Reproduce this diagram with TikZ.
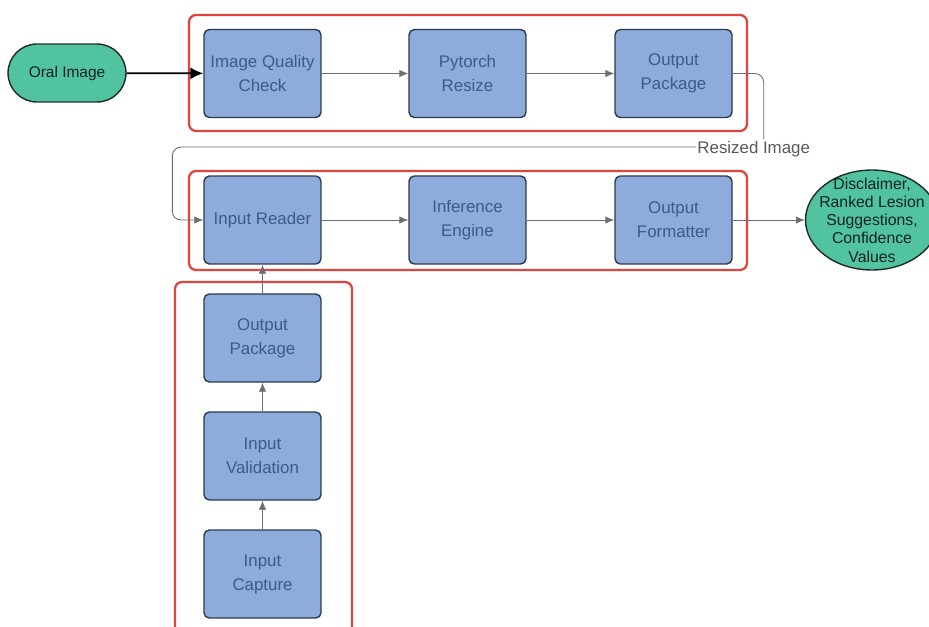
\documentclass[tikz,border=0pt]{standalone}
\usepackage{fontspec}
\setmainfont{Liberation Sans}
\usepackage{xcolor}
\usetikzlibrary{arrows.meta,positioning,calc,shapes.geometric}
\definecolor{boxfill}{HTML}{8DACDB}
\definecolor{boxline}{HTML}{2C3A4E}
\definecolor{boxtext}{HTML}{3D5A88}
\definecolor{termfill}{HTML}{52C3A1}
\definecolor{termline}{HTML}{1E2D29}
\definecolor{termtext}{HTML}{10241F}
\definecolor{grpred}{HTML}{E0443F}
\definecolor{flowgray}{HTML}{6E6E6E}
\tikzset{
  proc/.style={draw=boxline, fill=boxfill, rounded corners=3pt, align=center, text=boxtext,
               font=\fontsize{9.6}{13.6}\selectfont, inner sep=2pt, line width=0.8pt,
               minimum width=2.34cm, minimum height=1.76cm},
  term/.style={draw=termline, fill=termfill, align=center, text=termtext, line width=0.8pt,
               font=\fontsize{8.8}{10.3}\selectfont, inner sep=0pt},
  grp/.style={draw=grpred, line width=1.3pt, rounded corners=4pt},
  flow/.style={-{Latex[length=1.8mm, width=1.5mm]}, draw=flowgray, line width=0.5pt},
  lab/.style={font=\fontsize{9.6}{11}\selectfont, text=black!65, fill=white, inner sep=1pt},
}

\begin{document}
\begin{tikzpicture}[x=0.02cm, y=-0.02cm]
    \useasboundingbox[fill=white] (0,0) rectangle (929,626);
    % groups
    \draw[grp] (189,15) rectangle (747,131);
    \draw[grp] (189,171) rectangle (747,270);
    \draw[grp] (175,282) rectangle (352,640);
    % preprocessing row
    \node[term, rounded corners=0.58cm, minimum width=2.36cm, minimum height=1.16cm] (oral) at (67,73) {Oral Image};
    \node[proc] (qual) at (262.5,73.5) {Image Quality\\ Check};
    \node[proc] (resize) at (467.5,73.5) {Pytorch\\ Resize};
    \node[proc] (pkgtop) at (673.5,73.5) {Output\\ Package};
    % inference row
    \node[proc] (reader) at (262.5,220) {Input Reader};
    \node[proc] (infer) at (467.5,220) {Inference\\ Engine};
    \node[proc] (fmt) at (673.5,220) {Output\\ Formatter};
    \node[term, ellipse, font=\fontsize{9}{10.4}\selectfont, inner xsep=-6pt, inner ysep=-7pt,
          minimum width=2.66cm, minimum height=2.0cm] (result) at (872,220)
      {Disclaimer,\\ Ranked Lesion\\ Suggestions,\\ Confidence\\ Values};
    % capture column
    \node[proc] (pkgcol) at (262.5,338) {Output\\ Package};
    \node[proc] (valid) at (262.5,456) {Input\\ Validation};
    \node[proc] (capture) at (262.5,574) {Input\\ Capture};
    % connectors
    \draw[-{Latex[length=2.6mm, width=2.4mm]}, line width=1pt, black] (oral) -- (qual);
    \draw[flow] (qual) -- (resize);
    \draw[flow] (resize) -- (pkgtop);
    \draw[flow, rounded corners=5pt] (pkgtop.east) -- ++(31,0) |- node[lab, pos=0.5, xshift=-0.2cm, yshift=-1pt]{Resized Image}
      ($(reader.west)+(-31,-73)$) |- (reader.west);
    \draw[flow] (reader) -- (infer);
    \draw[flow] (infer) -- (fmt);
    \draw[flow] (fmt) -- (result);
    \draw[flow] (capture) -- (valid);
    \draw[flow] (valid) -- (pkgcol);
    \draw[flow] (pkgcol) -- (reader);
  \end{tikzpicture}
\end{document}
